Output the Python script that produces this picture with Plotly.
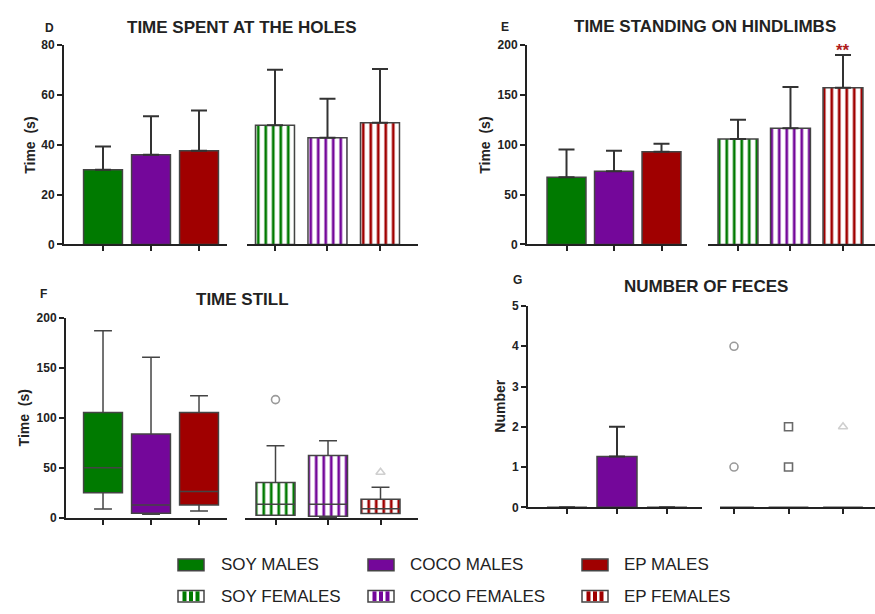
import plotly.graph_objects as go

W, H = 875, 614
FONT = "Liberation Sans, Arial, sans-serif"
INK = "#222222"
EDGE = "#444444"

male_groups = ["SOY MALES", "COCO MALES", "EP MALES"]
female_groups = ["SOY FEMALES", "COCO FEMALES", "EP FEMALES"]
group_colors = ["#007A00", "#74079A", "#A00000"]

# D - time spent at the holes (mean, top of error bar)
holes_male_mean = [30.0, 36.0, 37.6]
holes_male_top = [39.3, 51.5, 53.8]
holes_female_mean = [47.8, 42.8, 48.8]
holes_female_top = [70.1, 58.5, 70.4]

# E - time standing on hindlimbs
hind_male_mean = [67.5, 73.5, 93.0]
hind_male_top = [95.3, 94.0, 101.0]
hind_female_mean = [105.7, 116.5, 157.3]
hind_female_top = [125.0, 157.9, 190.2]

# F - time still (box plots)
still_male_low = [9.1, 3.9, 7.1]
still_male_q1 = [25.3, 4.9, 13.0]
still_male_med = [50.2, 13.0, 26.6]
still_male_q3 = [105.3, 84.0, 105.3]
still_male_high = [187.0, 160.5, 122.2]
still_female_low = [2.9, 0.8, 4.6]
still_female_q1 = [2.9, 1.8, 4.6]
still_female_med = [13.7, 13.7, 9.4]
still_female_q3 = [35.4, 62.4, 18.9]
still_female_high = [72.2, 77.1, 30.9]
still_out_soy_f = [118.3]
still_out_ep_f = [45.8]

# G - number of feces
feces_male_mean = [0.0, 1.26, 0.0]
feces_male_top = [0.0, 2.0, 0.0]
feces_female_mean = [0.0, 0.0, 0.0]
feces_out_soy_f = [4, 1]
feces_out_coco_f = [2, 1]
feces_out_ep_f = [2]

fig = go.Figure()


def px_x(p):
    return p / W


def px_y(p):
    return 1 - p / H


def bar_trace(xa, ya, cats, vals, female, width, top=None, base=None, line=True):
    marker = dict(color=group_colors if not female else "white",
                  line=dict(color=EDGE, width=1.5 if line else 0))
    if female:
        marker["pattern"] = dict(shape="|", fgcolor=group_colors, bgcolor="white",
                                 fgopacity=1, fillmode="replace",
                                 size=7.5, solidity=0.36)
    kw = {}
    if top is not None:
        kw["error_y"] = dict(type="data", symmetric=False,
                             array=[t - v for t, v in zip(top, vals)],
                             arrayminus=[0] * len(vals),
                             color="#333333", thickness=2, width=8)
    if base is not None:
        kw["base"] = base
    return go.Bar(x=cats, y=vals, width=width, marker=marker, xaxis=xa, yaxis=ya,
                  showlegend=False, hoverinfo="skip", **kw)


def box_trace(xa, ya, cats, low, q1, med, q3, high, female, width):
    traces = [bar_trace(xa, ya, cats, [b - a for a, b in zip(q1, q3)], female, width,
                        base=q1, line=False)]
    traces.append(go.Box(x=cats, q1=q1, median=med, q3=q3, lowerfence=low,
                         upperfence=high, orientation="v", boxpoints=False,
                         fillcolor="rgba(0,0,0,0)", line=dict(color=EDGE, width=1.5),
                         whiskerwidth=0.46, width=width, xaxis=xa, yaxis=ya,
                         showlegend=False, hoverinfo="skip"))
    return traces


def outliers(xa, ya, cat, vals, symbol, color):
    return go.Scatter(x=[cat] * len(vals), y=vals, mode="markers",
                      marker=dict(symbol=symbol, size=8, color=color,
                                  line=dict(color=color, width=1.6)),
                      xaxis=xa, yaxis=ya, showlegend=False, hoverinfo="skip")


# Panel D
fig.add_trace(bar_trace("x", "y", male_groups, holes_male_mean, False, 0.81, holes_male_top))
fig.add_trace(bar_trace("x2", "y", female_groups, holes_female_mean, True, 0.743, holes_female_top))
# Panel E
fig.add_trace(bar_trace("x3", "y2", male_groups, hind_male_mean, False, 0.82, hind_male_top))
fig.add_trace(bar_trace("x4", "y2", female_groups, hind_female_mean, True, 0.76, hind_female_top))
# Panel F
for t in box_trace("x5", "y3", male_groups, still_male_low, still_male_q1, still_male_med,
                   still_male_q3, still_male_high, False, 0.81):
    fig.add_trace(t)
for t in box_trace("x6", "y3", female_groups, still_female_low, still_female_q1,
                   still_female_med, still_female_q3, still_female_high, True, 0.743):
    fig.add_trace(t)
fig.add_trace(outliers("x6", "y3", female_groups[0], still_out_soy_f, "circle-open", "#9a9a9a"))
fig.add_trace(outliers("x6", "y3", female_groups[2], still_out_ep_f, "triangle-up-open", "#cfcfcf"))
# Panel G
fig.add_trace(bar_trace("x7", "y4", male_groups, feces_male_mean, False, 0.8, feces_male_top))
fig.add_trace(bar_trace("x8", "y4", female_groups, feces_female_mean, True, 0.73))
fig.add_trace(outliers("x8", "y4", female_groups[0], feces_out_soy_f, "circle-open", "#9a9a9a"))
fig.add_trace(outliers("x8", "y4", female_groups[1], feces_out_coco_f, "square-open", "#6a6a6a"))
fig.add_trace(outliers("x8", "y4", female_groups[2], feces_out_ep_f, "triangle-up-open", "#cfcfcf"))


def xaxis(domain_px, rng, cats, anchor):
    return dict(domain=[px_x(domain_px[0]), min(1.0, px_x(domain_px[1]))], range=rng,
                type="category", categoryorder="array", categoryarray=cats,
                showline=True, linecolor=INK, linewidth=2, ticks="outside", ticklen=5,
                tickwidth=1.5, tickcolor=INK, showticklabels=False, showgrid=False,
                zeroline=False, anchor=anchor, fixedrange=True)


def yaxis(domain_px, top, dtick, anchor):
    return dict(domain=[px_y(domain_px[1]), px_y(domain_px[0])], range=[0, top],
                tick0=0, dtick=dtick, showline=True, linecolor=INK, linewidth=2,
                ticks="outside", ticklen=5, tickwidth=1.5, tickcolor=INK,
                tickfont=dict(family=FONT, size=12, color=INK, weight="bold"),
                showgrid=False, zeroline=False, anchor=anchor, fixedrange=True)


layout = dict(
    width=W, height=H, margin=dict(l=0, r=0, t=0, b=0),
    paper_bgcolor="white", plot_bgcolor="white", barmode="overlay",
    font=dict(family=FONT, color=INK),
    xaxis=xaxis((64, 227), [-0.8125, 2.583], male_groups, "y"),
    xaxis2=xaxis((247, 418), [-0.533, 2.724], female_groups, "y"),
    xaxis3=xaxis((527, 687), [-0.832, 2.537], male_groups, "y2"),
    xaxis4=xaxis((708, 875), [-0.571, 2.61], female_groups, "y2"),
    xaxis5=xaxis((66, 227), [-0.771, 2.583], male_groups, "y3"),
    xaxis6=xaxis((245, 418), [-0.581, 2.714], female_groups, "y3"),
    xaxis7=xaxis((528, 702), [-0.78, 2.7], male_groups, "y4"),
    xaxis8=xaxis((720, 875), [-0.257, 2.587], female_groups, "y4"),
    yaxis=yaxis((39, 243), 80, 20, "x"),
    yaxis2=yaxis((39, 243), 200, 50, "x3"),
    yaxis3=yaxis((318, 523), 200, 50, "x5"),
    yaxis4=yaxis((306, 512), 5, 1, "x7"),
)
fig.update_layout(**layout)

ann = []


def text(xp, yp, s, size, bold=True, angle=0, color=INK, xanchor="center"):
    ann.append(dict(x=px_x(xp), y=px_y(yp), xref="paper", yref="paper", text=s,
                    showarrow=False, textangle=angle, xanchor=xanchor, yanchor="middle",
                    font=dict(family=FONT, size=size, color=color,
                              weight="bold" if bold else "normal")))


# panel letters and titles
text(49, 21, "D", 12)
text(242, 21, "TIME SPENT AT THE HOLES", 17)
text(505, 20, "E", 12)
text(705, 20, "TIME STANDING ON HINDLIMBS", 17)
text(43, 294, "F", 12)
text(242, 299, "TIME STILL", 17)
text(517, 279, "G", 12)
text(706, 286, "NUMBER OF FECES", 17)
# y axis titles
text(30, 142, "Time\u00a0\u00a0(s)", 14, angle=-90)
text(485, 142, "Time\u00a0\u00a0(s)", 14, angle=-90)
text(24, 421, "Time\u00a0\u00a0(s)", 14, angle=-90)
text(500, 409, "Number", 14, angle=-90)

# significance marker
ann.append(dict(x=female_groups[2], y=195, xref="x4", yref="y2", text="**",
                showarrow=False, yanchor="middle",
                font=dict(family=FONT, size=17, color="#B01C1C", weight="bold")))

# legend (drawn manually as a 3x2 grid)
shapes = []
legend_x = [(178, 219), (368, 408), (582, 622)]
rows = [571, 603]
for i in range(3):
    sx, tx = legend_x[i]
    for r, (names, female) in enumerate([(male_groups, False), (female_groups, True)]):
        cy = rows[r]
        x0, x1 = sx, sx + 26
        y0, y1 = cy - 6, cy + 6
        shapes.append(dict(type="rect", xref="paper", yref="paper",
                           x0=px_x(x0), x1=px_x(x1), y0=px_y(y1), y1=px_y(y0),
                           fillcolor="white" if female else group_colors[i],
                           line=dict(color=EDGE, width=1.5)))
        if female:
            for k in range(3):
                c = x0 + 26 * (k + 1) / 4
                shapes.append(dict(type="rect", xref="paper", yref="paper",
                                   x0=px_x(c - 2), x1=px_x(c + 2),
                                   y0=px_y(y1 - 1), y1=px_y(y0 + 1),
                                   fillcolor=group_colors[i], line=dict(width=0)))
        text(tx, cy, names[i], 17, bold=False, xanchor="left")

fig.update_layout(annotations=ann, shapes=shapes)
fig.write_html("out.html", config={"displayModeBar": False},
               post_script="document.body.style.margin='0';"
                           "document.body.style.overflow='hidden';")
